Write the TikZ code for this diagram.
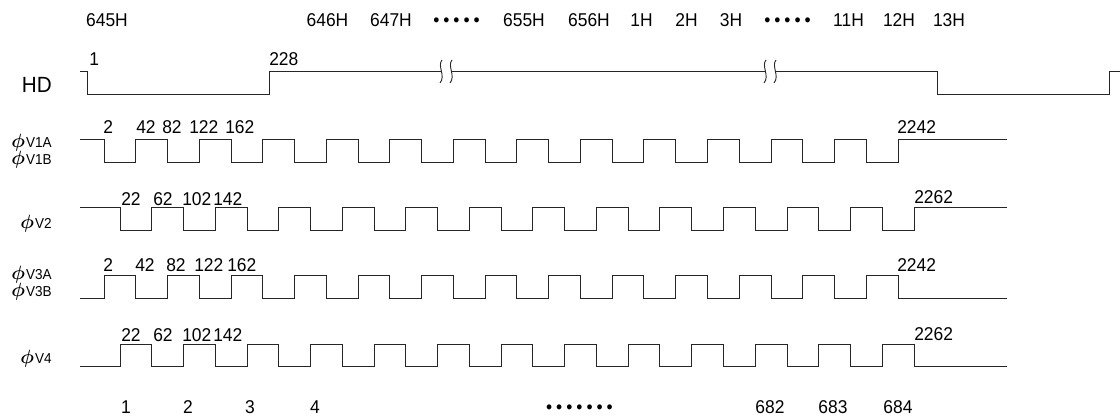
\documentclass[tikz,border=0pt]{standalone}
\usepackage{fontspec}
\usepackage{amsmath}
\setmainfont{Liberation Sans}[FakeStretch=0.94]
\newcommand\halfp{31.76}
\newcommand\wavetrain[3]{%
  \draw[sig] (80,#2) \foreach \m in {0,...,12}{
    -- ({#1+2*\m*\halfp},#2) -- ({#1+2*\m*\halfp},#3)
    -- ({#1+(2*\m+1)*\halfp},#3) -- ({#1+(2*\m+1)*\halfp},#2)} -- (1007,#2);}
\newcommand\squig[1]{%
  \draw[sig] ({#1+1},60) .. controls ({#1-4},66) and ({#1+5},76) .. ({#1-1},83);}
\newcommand\dotsfive{•\kern3pt•\kern3pt•\kern3pt•\kern3pt•}
\newcommand\dotsseven{•\kern3pt•\kern3pt•\kern3pt•\kern3pt•\kern3pt•\kern3pt•}
\newcommand\phisig[1]{\smash{\fontsize{13.5}{13.5}\selectfont$\boldsymbol{\phi}$}\kern0.8pt{\fontsize{10.8}{12.75}\selectfont #1}}
\begin{document}
\begin{tikzpicture}[x=0.75pt,y=-0.75pt,
  sig/.style={line width=0.7pt,draw=black!85,line join=miter},
  lbl/.style={inner sep=0pt,font=\fontsize{13.9}{16}\selectfont},
  top/.style={lbl,anchor=base},
  num/.style={lbl,anchor=base west},
  side/.style={lbl,anchor=base east},
  pair/.style={inner sep=0pt,anchor=base east,align=right,
    font=\fontsize{10.8}{12.75}\selectfont}]
\useasboundingbox (0,0) rectangle (1120,417);

% top row
\node[top] (t645) at (107,27) {645H};
\node[top] (t646) at (327.5,27) {646H};
\node[top] (t647) at (391,27) {647H};
\node[top] (tdA) at (456.5,27) {\dotsfive};
\node[top] (t655) at (524,27) {655H};
\node[top] (t656) at (589,27) {656H};
\node[top] (t1) at (641.5,27) {1H};
\node[top] (t2) at (686.5,27) {2H};
\node[top] (t3) at (731,27) {3H};
\node[top] (tdB) at (787.5,27) {\dotsfive};
\node[top] (t11) at (848.5,27) {11H};
\node[top] (t12) at (899,27) {12H};
\node[top] (t13) at (949,27) {13H};

% left labels
\node[side,font=\fontsize{16.5}{18}\selectfont] (lhd) at (52,93) {HD};
\node[pair] (lv1) at (52,165) {\phisig{V1A}\\\phisig{V1B}};
\node[side] (lv2) at (52,228.5) {\phisig{V2}};
\node[pair] (lv3) at (52,296) {\phisig{V3A}\\\phisig{V3B}};
\node[side] (lv4) at (52,363) {\phisig{V4}};

% HD waveform
\draw[sig] (80,71) -- (87,71) -- (87,94) -- (269,94) -- (269,71) -- (441,71);
\squig{441}
\squig{451}
\draw[sig] (451,71) -- (765,71);
\squig{765}
\squig{775}
\draw[sig] (775,71) -- (937,71) -- (937,94) -- (1109,94) -- (1109,71) -- (1120,71);
\node[num] (h1) at (89,66) {1};
\node[num] (h228) at (269,66) {228};

% V1
\wavetrain{104}{139.3}{162}
\node[num] (a2) at (103,133.5) {2};
\node[num] (a42) at (136,133.5) {42};
\node[num] (a82) at (162,133.5) {82};
\node[num] (a122) at (189,133.5) {122};
\node[num] (a162) at (225,133.5) {162};
\node[num] (a2242) at (897,133.5) {2242};

% V2
\wavetrain{120}{207.7}{230}
\node[num] (b22) at (121,205) {22};
\node[num] (b62) at (153,205) {62};
\node[num] (b102) at (182,205) {102};
\node[num] (b142) at (213,205) {142};
\node[num] (b2262) at (914,204) {2262};

% V3
\wavetrain{104}{298.3}{275.7}
\node[num] (c2) at (103,271.5) {2};
\node[num] (c42) at (135,271.5) {42};
\node[num] (c82) at (166,271.5) {82};
\node[num] (c122) at (194,271.5) {122};
\node[num] (c162) at (227,271.5) {162};
\node[num] (c2242) at (897,271.5) {2242};

% V4
\wavetrain{120}{366.7}{344}
\node[num] (d22) at (121,341.5) {22};
\node[num] (d62) at (153,341.5) {62};
\node[num] (d102) at (182,341.5) {102};
\node[num] (d142) at (213,341.5) {142};
\node[num] (d2262) at (914,340.5) {2262};

% bottom row
\node[top] (n1) at (126,413) {1};
\node[top] (n2) at (188,413) {2};
\node[top] (n3) at (250,413) {3};
\node[top] (n4) at (315,413) {4};
\node[top] (ndots) at (579.5,413) {\dotsseven};
\node[top] (n682) at (770,413) {682};
\node[top] (n683) at (833,413) {683};
\node[top] (n684) at (898,413) {684};
\end{tikzpicture}
\end{document}
